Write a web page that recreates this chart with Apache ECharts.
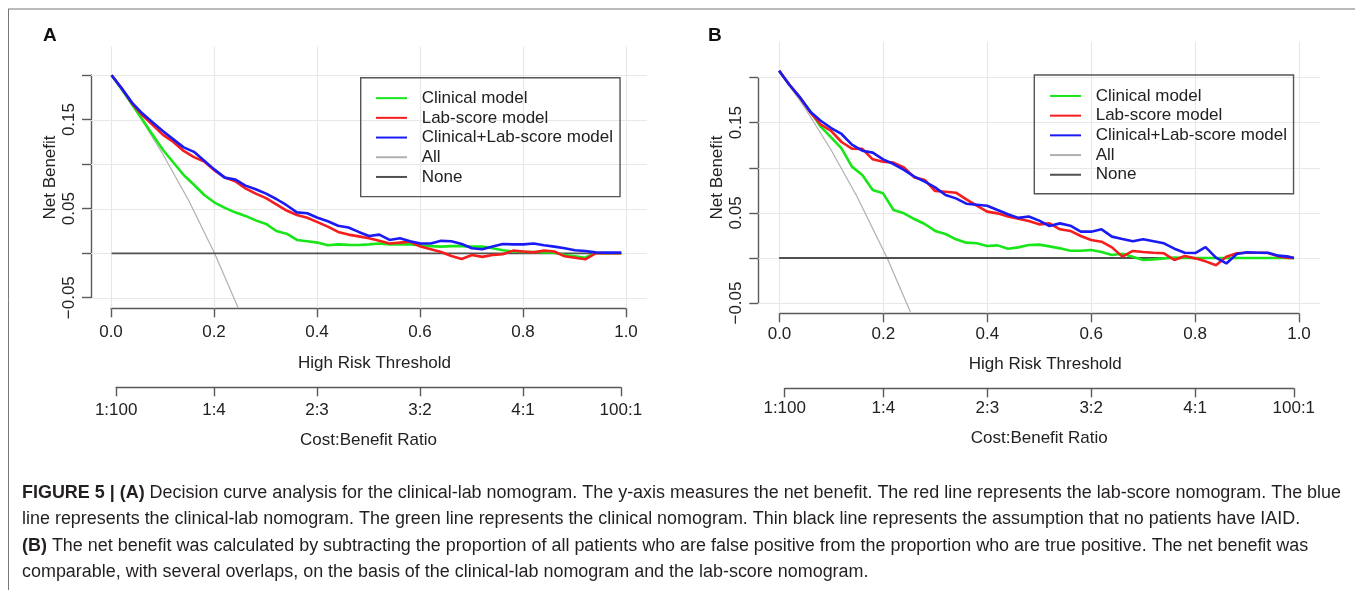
<!DOCTYPE html>
<html>
<head>
<meta charset="utf-8">
<script src="https://cdn.jsdelivr.net/npm/echarts@6/dist/echarts.min.js"></script>
<style>
html, body { margin: 0; padding: 0; background: #fff; }
#chart { width: 1355px; height: 590px; }
</style>
</head>
<body>
<div id="chart"></div>
<script>
// high risk thresholds used for the model curves
var thresholds = [0, 0.02, 0.04, 0.06, 0.08, 0.10, 0.12, 0.14, 0.16, 0.18, 0.20, 0.22, 0.24, 0.26, 0.28, 0.30,
  0.32, 0.34, 0.36, 0.38, 0.40, 0.42, 0.44, 0.46, 0.48, 0.50, 0.52, 0.54, 0.56, 0.58, 0.60, 0.62, 0.64, 0.66,
  0.68, 0.70, 0.72, 0.74, 0.76, 0.78, 0.80, 0.82, 0.84, 0.86, 0.88, 0.90, 0.92, 0.94, 0.96, 0.98, 0.99];

// panel A net benefit
var clinicalA = [0.200, 0.184, 0.167, 0.150, 0.133, 0.116, 0.102, 0.088, 0.077, 0.0655, 0.057, 0.051, 0.046, 0.042,
  0.037, 0.033, 0.025, 0.022, 0.015, 0.0135, 0.012, 0.009, 0.010, 0.0095, 0.0094, 0.010, 0.011, 0.010, 0.010, 0.010,
  0.009, 0.008, 0.0075, 0.008, 0.008, 0.0075, 0.0075, 0.0056, 0.0034, 0.002, 0.0015, 0.0015, 0.001, 0.0007, -0.002,
  -0.0034, -0.005, 0, 0, 0, 0];
var labScoreA = [0.200, 0.185, 0.168, 0.155, 0.144, 0.133, 0.125, 0.115, 0.108, 0.103, 0.093, 0.085, 0.081, 0.073,
  0.067, 0.062, 0.055, 0.048, 0.043, 0.040, 0.035, 0.030, 0.024, 0.021, 0.019, 0.017, 0.014, 0.011, 0.012, 0.013,
  0.0075, 0.0045, 0.0015, -0.003, -0.0064, -0.002, -0.004, -0.002, -0.001, 0.003, 0.002, 0.001, 0.003, 0.002, -0.0034,
  -0.005, -0.0067, 0, 0, 0, 0];
var combinedA = [0.200, 0.185, 0.169, 0.157, 0.147, 0.137, 0.128, 0.119, 0.114, 0.104, 0.094, 0.085, 0.083, 0.076,
  0.072, 0.067, 0.061, 0.054, 0.046, 0.045, 0.040, 0.036, 0.031, 0.029, 0.024, 0.0195, 0.021, 0.015, 0.017, 0.0135,
  0.011, 0.011, 0.014, 0.0135, 0.0105, 0.0056, 0.0045, 0.0075, 0.0105, 0.010, 0.010, 0.011, 0.009, 0.0075, 0.0056,
  0.0034, 0.0026, 0.001, 0.0007, 0.0007, 0.0007];
var allThresholdsA = [0, 0.05, 0.1, 0.15, 0.2, 0.246];
var allA = [0.2, 0.158, 0.111, 0.059, 0, -0.0615];

// panel B net benefit
var clinicalB = [0.2077, 0.1918, 0.178, 0.163, 0.1456, 0.1338, 0.1216, 0.1013, 0.092, 0.0754, 0.0717, 0.0532, 0.0495,
  0.0432, 0.0377, 0.030, 0.0266, 0.0207, 0.017, 0.0163, 0.0133, 0.014, 0.0103, 0.0118, 0.0144, 0.0148, 0.0129, 0.0107,
  0.0081, 0.0081, 0.0089, 0.0067, 0.0033, 0.0048, 0.0015, -0.0022, -0.0015, -0.0004, 0.0004, 0, 0, 0, 0, 0, 0, 0, 0,
  0, 0, 0, 0];
var labScoreB = [0.2077, 0.192, 0.178, 0.1615, 0.148, 0.141, 0.1286, 0.1212, 0.121, 0.1094, 0.1068, 0.1057, 0.1005,
  0.0894, 0.0865, 0.0743, 0.0735, 0.0724, 0.065, 0.058, 0.0514, 0.0495, 0.046, 0.0435, 0.041, 0.0373, 0.0384, 0.0318,
  0.030, 0.0244, 0.020, 0.0181, 0.0118, 0.0015, 0.0078, 0.0067, 0.0059, 0.0052, -0.0022, 0.0022, -0.0004, -0.0037,
  -0.008, 0.0015, 0.0052, 0.0059, 0.0059, 0.0055, 0.0018, 0, 0];
var combinedB = [0.2077, 0.1918, 0.1781, 0.1622, 0.1522, 0.1441, 0.1375, 0.1256, 0.119, 0.1168, 0.1094, 0.1042, 0.0976,
  0.0902, 0.0846, 0.0783, 0.0698, 0.0661, 0.0602, 0.0591, 0.058, 0.0532, 0.0485, 0.0445, 0.046, 0.0414, 0.0355, 0.0384,
  0.0358, 0.0292, 0.0292, 0.0318, 0.0237, 0.021, 0.0185, 0.0207, 0.0185, 0.0163, 0.0103, 0.0059, 0.0055, 0.012, 0.0004,
  -0.006, 0.0044, 0.0063, 0.0059, 0.0059, 0.0026, 0.0015, 0];
var allThresholdsB = [0, 0.05, 0.1, 0.15, 0.2077, 0.2525];
var allB = [0.2077, 0.166, 0.1197, 0.068, 0, -0.0599];

// treat none
var noneThresholds = [0, 0.99];
var noneValues = [0, 0];

// ticks and labels
var xTicks = [0, 0.2, 0.4, 0.6, 0.8, 1.0];
var yTicks = [-0.05, 0, 0.05, 0.1, 0.15, 0.2];
var yTickLabels = ['\u22120.05', '', '0.05', '', '0.15', ''];
var costTicks = [0.01, 0.2, 0.4, 0.6, 0.8, 0.99];
var costLabels = ['1:100', '1:4', '2:3', '3:2', '4:1', '100:1'];
var legendNames = ['Clinical model', 'Lab-score model', 'Clinical+Lab-score model', 'All', 'None'];

var captionLines = [
  '{b|FIGURE 5 | (A)} Decision curve analysis for the clinical-lab nomogram. The y-axis measures the net benefit. The red line represents the lab-score nomogram. The blue',
  'line represents the clinical-lab nomogram. The green line represents the clinical nomogram. Thin black line represents the assumption that no patients have IAID.',
  '{b|(B)} The net benefit was calculated by subtracting the proportion of all patients who are false positive from the proportion who are true positive. The net benefit was',
  'comparable, with several overlaps, on the basis of the clinical-lab nomogram and the lab-score nomogram.'
];

var FONT = '"Liberation Sans", Arial, Helvetica, sans-serif';
var TXT = '#222';
var AXIS = '#5a5a5a';

var panels = [
  {
    letter: 'A', letterX: 43, letterY: 36,
    plot: { left: 91, top: 46.7, width: 556, height: 261.6 }, yRange: [-0.0618, 0.2321],
    axis: { left: 111, top: 75, width: 515, height: 222.7 }, xOffset: 10.6, yOffset: 20,
    cost: { left: 116.15, top: 377, width: 504.7, height: 10.3 }, costMargin: 15, costGap: 45, xMargin: 16, xGap: 47,
    legend: { left: 360.7, top: 77.7, padding: [10.6, 7, 9.8, 14.3] },
    clinical: clinicalA, lab: labScoreA, combined: combinedA, allT: allThresholdsA, all: allA
  },
  {
    letter: 'B', letterX: 708, letterY: 36,
    plot: { left: 758.3, top: 41.7, width: 561.7, height: 271.6 }, yRange: [-0.0613, 0.2398],
    axis: { left: 779.5, top: 77.6, width: 519.5, height: 225.4 }, xOffset: 10.3, yOffset: 21.2,
    cost: { left: 784.7, top: 378, width: 509.1, height: 10.3 }, costMargin: 12, costGap: 42, xMargin: 13, xGap: 43,
    legend: { left: 1034.3, top: 75, padding: [11.1, 6.5, 9.2, 14.7] },
    clinical: clinicalB, lab: labScoreB, combined: combinedB, allT: allThresholdsB, all: allB
  }
];

function pairs(xs, ys) {
  return xs.map(function (x, i) { return [x, ys[i]]; });
}

function lookup(ticks, labels) {
  return function (v) {
    for (var i = 0; i < ticks.length; i++) {
      if (Math.abs(ticks[i] - v) < 1e-6) return labels[i];
    }
    return '';
  };
}

var grids = [], xAxes = [], yAxes = [], series = [], legends = [], graphics = [];

panels.forEach(function (p, k) {
  var g = k * 3;
  [p.plot, p.axis, p.cost].forEach(function (r) {
    grids.push({ left: r.left, top: r.top, width: r.width, height: r.height, containLabel: false, outerBoundsMode: 'none' });
  });

  // plot region (data scale, R style 4% padding)
  xAxes.push({ gridIndex: g, type: 'value', min: -0.04, max: 1.04, show: false });
  yAxes.push({
    gridIndex: g, type: 'value', min: p.yRange[0], max: p.yRange[1],
    name: 'Net Benefit', nameLocation: 'middle', nameGap: 32, nameMoveOverlap: false,
    nameTextStyle: { fontSize: 17, color: TXT, fontFamily: FONT },
    axisLine: { show: false, onZero: false }, axisTick: { show: false }, axisLabel: { show: false }, splitLine: { show: false }
  });

  // visible axes
  xAxes.push({
    gridIndex: g + 1, type: 'value', min: 0, max: 1, interval: 0.2, offset: p.xOffset,
    name: 'High Risk Threshold', nameLocation: 'middle', nameGap: p.xGap, nameMoveOverlap: false,
    nameTextStyle: { fontSize: 17, color: TXT, fontFamily: FONT, padding: [0, 0, 0, 12] },
    axisLine: { show: true, onZero: false, lineStyle: { color: AXIS, width: 1.4 } },
    axisTick: { show: true, inside: false, length: 9, lineStyle: { color: AXIS, width: 1.4 } },
    axisLabel: { margin: p.xMargin, fontSize: 17, color: TXT, fontFamily: FONT, formatter: function (v) { return v.toFixed(1); } },
    splitLine: { show: false }
  });
  yAxes.push({
    gridIndex: g + 1, type: 'value', min: -0.05, max: 0.2, interval: 0.05, offset: p.yOffset,
    axisLine: { show: true, onZero: false, lineStyle: { color: AXIS, width: 1.4 } },
    axisTick: { show: true, inside: false, length: 9, lineStyle: { color: AXIS, width: 1.4 } },
    axisLabel: { margin: 13, rotate: 90, fontSize: 17, color: TXT, fontFamily: FONT, formatter: lookup(yTicks, yTickLabels) },
    splitLine: { show: false }
  });

  // cost:benefit axis
  xAxes.push({
    gridIndex: g + 2, type: 'value', min: 0.01, max: 0.99,
    name: 'Cost:Benefit Ratio', nameLocation: 'middle', nameGap: p.costGap, nameMoveOverlap: false,
    nameTextStyle: { fontSize: 17, color: TXT, fontFamily: FONT },
    axisLine: { show: true, onZero: false, lineStyle: { color: AXIS, width: 1.4 } },
    axisTick: { show: true, inside: false, length: 9, customValues: costTicks, lineStyle: { color: AXIS, width: 1.4 } },
    axisLabel: { margin: p.costMargin, fontSize: 17, color: TXT, fontFamily: FONT, customValues: costTicks, formatter: lookup(costTicks, costLabels) },
    splitLine: { show: false }
  });
  yAxes.push({ gridIndex: g + 2, type: 'value', min: 0, max: 1, show: false, axisLine: { onZero: false } });

  // light grid like R's grid()
  var gridLines = [];
  xTicks.forEach(function (x) {
    gridLines.push([{ coord: [x, p.yRange[0]] }, { coord: [x, p.yRange[1]] }]);
  });
  yTicks.forEach(function (y) {
    gridLines.push([{ coord: [-0.04, y] }, { coord: [1.04, y] }]);
  });
  series.push({
    name: 'grid', type: 'line', xAxisIndex: g, yAxisIndex: g, data: [], z: 1, silent: true,
    markLine: {
      z: 1, silent: true, animation: false, symbol: ['none', 'none'], label: { show: false },
      lineStyle: { color: '#e8e8e8', width: 1.2, type: 'solid' }, emphasis: { disabled: true },
      data: gridLines
    }
  });

  var curves = [
    { name: 'Clinical model', data: pairs(thresholds, p.clinical), color: '#19e619', width: 2.6, z: 3 },
    { name: 'Lab-score model', data: pairs(thresholds, p.lab), color: '#f51d1d', width: 2.6, z: 4 },
    { name: 'Clinical+Lab-score model', data: pairs(thresholds, p.combined), color: '#1a1af5', width: 2.6, z: 5 },
    { name: 'All', data: pairs(p.allT, p.all), color: '#b0b0b0', width: 1.2, z: 2 },
    { name: 'None', data: pairs(noneThresholds, noneValues), color: '#505050', width: 1.8, z: 2 }
  ];
  curves.forEach(function (c) {
    series.push({
      name: c.name, type: 'line', xAxisIndex: g, yAxisIndex: g, data: c.data, z: c.z,
      symbol: 'none', silent: true, smooth: false,
      lineStyle: { color: c.color, width: c.width },
      itemStyle: { color: c.color },
      emphasis: { disabled: true }
    });
  });

  legends.push({
    orient: 'vertical', left: p.legend.left, top: p.legend.top, padding: p.legend.padding,
    itemWidth: 31, itemHeight: 14, itemGap: 0, selectedMode: false,
    borderColor: '#555', borderWidth: 1.4, backgroundColor: 'transparent',
    itemStyle: { opacity: 0 },
    textStyle: { fontSize: 17, color: TXT, fontFamily: FONT, lineHeight: 19.7, padding: [0, 0, 0, 9.7] },
    data: legendNames
  });

  graphics.push({
    type: 'text', x: p.letterX, y: p.letterY, silent: true,
    style: { text: p.letter, fontSize: 19, fontWeight: 'bold', fontFamily: FONT, fill: '#111', verticalAlign: 'middle' }
  });
});

// figure frame
graphics.push({ type: 'line', silent: true, shape: { x1: 8, y1: 9, x2: 1355, y2: 9 }, style: { stroke: '#777', lineWidth: 1 } });
graphics.push({ type: 'line', silent: true, shape: { x1: 8.5, y1: 9, x2: 8.5, y2: 590 }, style: { stroke: '#777', lineWidth: 1 } });

// caption
captionLines.forEach(function (line, i) {
  graphics.push({
    type: 'text', x: 22, y: 493 + i * 26.3, silent: true,
    style: {
      text: line, fontSize: 17.95, fontFamily: FONT, fill: '#231f20', verticalAlign: 'middle',
      rich: { b: { fontSize: 17.95, fontFamily: FONT, fontWeight: 'bold', fill: '#231f20' } }
    }
  });
});

var chart = echarts.init(document.getElementById('chart'), null, { renderer: 'canvas' });
chart.setOption({
  animation: false,
  backgroundColor: '#fff',
  textStyle: { fontFamily: FONT },
  grid: grids,
  xAxis: xAxes,
  yAxis: yAxes,
  legend: legends,
  series: series,
  graphic: graphics
});
</script>
</body>
</html>
